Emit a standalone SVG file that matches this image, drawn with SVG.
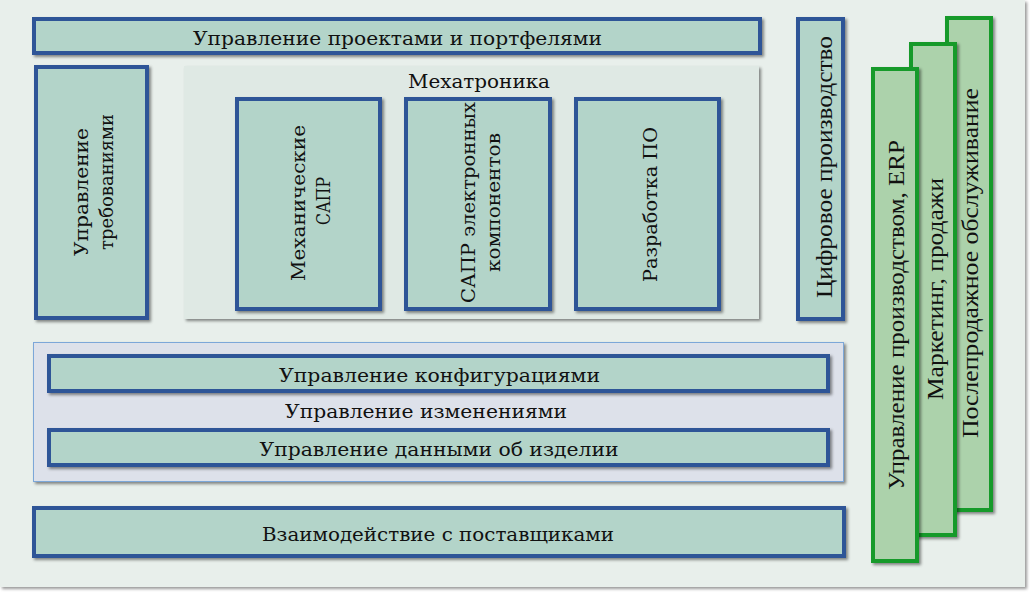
<svg xmlns="http://www.w3.org/2000/svg" width="1033" height="593" viewBox="0 0 1033 593">
<defs>
<filter id="sh" x="-10%" y="-10%" width="130%" height="130%">
<feDropShadow dx="2" dy="2" stdDeviation="1.5" flood-color="#000" flood-opacity="0.45"/>
</filter>
<filter id="shbg" x="-5%" y="-5%" width="110%" height="110%">
<feDropShadow dx="2" dy="2" stdDeviation="1.5" flood-color="#000" flood-opacity="0.4"/>
</filter>
</defs>
<style>
.box{fill:#b3d4c9;stroke:#2e5597;stroke-width:4;filter:url(#sh)}
.gbox{fill:#acd2ab;stroke:#139a2b;stroke-width:4;filter:url(#sh)}
.t{font-family:"DejaVu Serif","Liberation Serif",serif;font-size:19px;fill:#111}
.r{font-family:"Liberation Serif","DejaVu Serif",serif;font-size:23px;fill:#111}
</style>
<rect x="0" y="0" width="1025" height="587" fill="#e8efeb" filter="url(#shbg)"/>

<g id="projects">
<rect class="box" x="34" y="19" width="726" height="34"/>
<text class="t" x="397.5" y="45" text-anchor="middle" textLength="409" lengthAdjust="spacingAndGlyphs">Управление проектами и портфелями</text>
</g>

<g id="requirements">
<rect class="box" x="36" y="67" width="111" height="251"/>
<text class="t" transform="translate(88,192) rotate(-90)" text-anchor="middle" textLength="128" lengthAdjust="spacingAndGlyphs">Управление</text>
<text class="t" transform="translate(113,182) rotate(-90)" text-anchor="middle" textLength="136" lengthAdjust="spacingAndGlyphs">требованиями</text>
</g>

<g id="mechatronics">
<rect x="184" y="66" width="575" height="253" fill="#dfe9e4" filter="url(#sh)"/>
<text class="t" x="479" y="88" text-anchor="middle" textLength="142" lengthAdjust="spacingAndGlyphs">Мехатроника</text>
</g>

<g id="mcad">
<rect class="box" x="237" y="99" width="143" height="210"/>
<text class="t" transform="translate(305,203) rotate(-90)" text-anchor="middle" textLength="156" lengthAdjust="spacingAndGlyphs">Механические</text>
<text class="t" transform="translate(330,201) rotate(-90)" text-anchor="middle" textLength="48" lengthAdjust="spacingAndGlyphs">САПР</text>
</g>

<g id="ecad">
<rect class="box" x="406" y="99" width="144" height="210"/>
<text class="t" transform="translate(475,202.5) rotate(-90)" text-anchor="middle" textLength="201" lengthAdjust="spacingAndGlyphs">САПР электронных</text>
<text class="t" transform="translate(500,202.5) rotate(-90)" text-anchor="middle" textLength="139" lengthAdjust="spacingAndGlyphs">компонентов</text>
</g>

<g id="software">
<rect class="box" x="576" y="99" width="143" height="210"/>
<text class="t" transform="translate(657,204.5) rotate(-90)" text-anchor="middle" textLength="155" lengthAdjust="spacingAndGlyphs">Разработка ПО</text>
</g>

<g id="digital">
<rect class="box" x="798" y="19" width="45" height="300"/>
<text class="r" transform="translate(832,167) rotate(-90)" text-anchor="middle" textLength="262" lengthAdjust="spacingAndGlyphs">Цифровое производство</text>
</g>

<g id="changes">
<rect x="33.5" y="342.5" width="810" height="139" fill="#dde1ea" stroke="#7ba7d8" stroke-width="1" filter="url(#sh)"/>
<text class="t" x="426" y="418" text-anchor="middle" textLength="282" lengthAdjust="spacingAndGlyphs">Управление изменениями</text>
</g>

<g id="config">
<rect class="box" x="49" y="356" width="779" height="35"/>
<text class="t" x="439.5" y="382" text-anchor="middle" textLength="321" lengthAdjust="spacingAndGlyphs">Управление конфигурациями</text>
</g>

<g id="pdm">
<rect class="box" x="49" y="430" width="779" height="35"/>
<text class="t" x="439" y="456" text-anchor="middle" textLength="359" lengthAdjust="spacingAndGlyphs">Управление данными об изделии</text>
</g>

<g id="suppliers">
<rect class="box" x="34" y="508" width="810" height="48"/>
<text class="t" x="438" y="541" text-anchor="middle" textLength="352" lengthAdjust="spacingAndGlyphs">Взаимодействие с поставщиками</text>
</g>

<g id="aftersales">
<rect class="gbox" x="947" y="18" width="44" height="492"/>
<text class="r" transform="translate(978,263) rotate(-90)" text-anchor="middle" textLength="350" lengthAdjust="spacingAndGlyphs">Послепродажное обслуживание</text>
</g>

<g id="marketing">
<rect class="gbox" x="911" y="44" width="44" height="491"/>
<text class="r" transform="translate(943,289) rotate(-90)" text-anchor="middle" textLength="222" lengthAdjust="spacingAndGlyphs">Маркетинг, продажи</text>
</g>

<g id="erp">
<rect class="gbox" x="873" y="69" width="44" height="492"/>
<text class="r" transform="translate(904,315) rotate(-90)" text-anchor="middle" textLength="350" lengthAdjust="spacingAndGlyphs">Управление производством, ERP</text>
</g>

<g id="connectors"></g>
</svg>
